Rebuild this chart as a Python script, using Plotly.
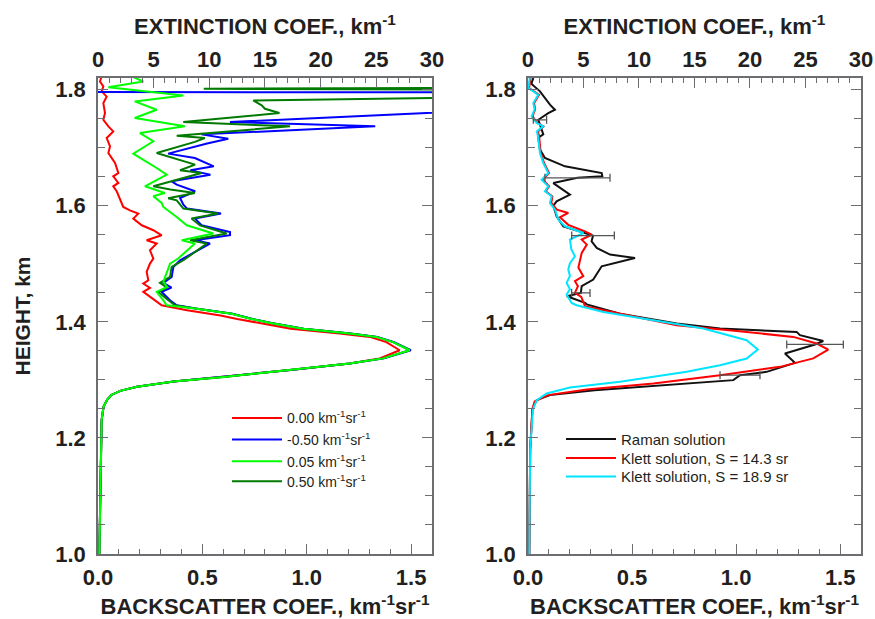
import plotly.graph_objects as go

# ---------------- left panel: sensitivity to the reference value ----------------
h_ref000 = [1.823, 1.814, 1.8055, 1.797, 1.788, 1.7768, 1.7596, 1.748, 1.7367, 1.728,
            1.7166, 1.7022, 1.6908, 1.6735, 1.6563, 1.6506, 1.6392, 1.6334, 1.6248, 1.6093,
            1.5978, 1.592, 1.5864, 1.5778, 1.5663, 1.5577, 1.549, 1.5404, 1.5348, 1.5232,
            1.509, 1.5003, 1.4859, 1.4716, 1.4658, 1.4584, 1.4515, 1.437, 1.4286, 1.42,
            1.411, 1.405, 1.397, 1.388, 1.38, 1.374, 1.365, 1.351, 1.337, 1.328,
            1.317, 1.305, 1.297, 1.288, 1.281, 1.274, 1.265, 1.254, 1.231, 1.15, 1.0]
ext_ref000 = [0.33, 0.18, 0.48, 0.33, 0.78, 0.48, 0.63, 0.48, 0.93, 1.37,
              0.78, 1.08, 0.93, 1.53, 1.83, 1.37, 1.83, 1.37, 1.68, 1.98,
              2.27, 2.87, 3.62, 3.17, 3.93, 4.97, 5.72, 4.37, 5.27, 4.67,
              4.97, 4.67, 4.37, 4.52, 4.07, 4.67, 4.07, 5.12, 5.72, 8.0,
              11.0, 12.5, 14.6, 17.3, 21.7, 24.4, 25.9, 27.1, 25.3, 22.6,
              17.3, 11.3, 6.8, 3.5, 2.0, 1.2, 0.8, 0.5, 0.33, 0.25, 0.12]

h_refm050 = [1.822, 1.7958, 1.795, 1.769, 1.7441, 1.7367, 1.7229, 1.7153, 1.707, 1.6897,
             1.6822, 1.6678, 1.6609, 1.6535, 1.642, 1.6363, 1.6248, 1.6133, 1.6018, 1.595,
             1.5864, 1.5778, 1.5663, 1.5548, 1.5491, 1.5404, 1.5348, 1.5175, 1.506, 1.4945,
             1.4773, 1.467, 1.459, 1.4515, 1.437, 1.4286, 1.423, 1.414, 1.405, 1.398,
             1.388, 1.38, 1.374, 1.365, 1.351, 1.337, 1.328, 1.317, 1.305, 1.297,
             1.288, 1.281, 1.274, 1.265, 1.254, 1.231, 1.15, 1.0]
ext_refm050 = [-10.0, -10.0, 60.0, 40.0, 11.85, 24.9, 9.3, 11.7, 9.8, 6.3,
               8.7, 10.4, 8.3, 10.1, 6.62, 7.07, 8.72, 7.37, 7.67, 8.0,
               11.05, 8.72, 9.3, 11.86, 11.86, 8.72, 10.06, 8.4, 7.37, 6.77,
               6.62, 5.87, 6.6, 5.72, 6.47, 7.07, 8.8, 12.1, 13.9, 15.6,
               18.5, 22.7, 25.1, 26.6, 28.1, 25.7, 22.6, 17.3, 11.3, 6.8,
               3.5, 2.0, 1.2, 0.8, 0.5, 0.33, 0.25, 0.12]

h_ref005 = [1.823, 1.814, 1.804, 1.79, 1.7797, 1.7654, 1.751, 1.7367, 1.7252, 1.711,
            1.6897, 1.678, 1.665, 1.6535, 1.6334, 1.6219, 1.6162, 1.6047, 1.5978, 1.5806,
            1.5663, 1.552, 1.5404, 1.5348, 1.509, 1.5003, 1.486, 1.4687, 1.46, 1.4515,
            1.437, 1.4286, 1.423, 1.414, 1.405, 1.398, 1.388, 1.38, 1.374, 1.365,
            1.351, 1.337, 1.328, 1.317, 1.305, 1.297, 1.288, 1.281, 1.274, 1.265,
            1.254, 1.231, 1.15, 1.0]
ext_ref005 = [3.0, 4.07, 0.93, 7.67, 3.3, 5.27, 3.3, 7.8, 3.77, 4.97,
              3.17, 4.2, 5.27, 6.17, 4.22, 6.0, 4.97, 5.72, 5.87, 7.07,
              7.97, 10.36, 7.52, 8.7, 7.2, 6.47, 6.17, 5.87, 6.2, 5.27,
              5.87, 6.17, 8.7, 12.0, 13.8, 15.5, 18.4, 22.6, 25.0, 26.5,
              28.0, 25.6, 22.6, 17.3, 11.3, 6.8, 3.5, 2.0, 1.2, 0.8,
              0.5, 0.33, 0.25, 0.12]

h_ref050 = [1.822, 1.8035, 1.8015, 1.7995, 1.789, 1.7814, 1.7728, 1.767, 1.7596, 1.7441,
            1.7367, 1.7205, 1.7166, 1.71, 1.6908, 1.6707, 1.661, 1.6563, 1.6334, 1.628,
            1.6219, 1.6127, 1.6093, 1.595, 1.5864, 1.5778, 1.566, 1.552, 1.5404, 1.5348,
            1.506, 1.4945, 1.4773, 1.467, 1.459, 1.4515, 1.437, 1.4286, 1.423, 1.414,
            1.405, 1.398, 1.388, 1.38, 1.374, 1.365, 1.351, 1.337, 1.328, 1.317,
            1.305, 1.297, 1.288, 1.281, 1.274, 1.265, 1.254, 1.231, 1.15, 1.0]
ext_ref050 = [45.0, 45.0, 9.5, 45.0, 45.0, 13.95, 14.7, 15.0, 16.3, 7.66,
              17.25, 7.07, 9.6, 8.7, 5.27, 8.72, 7.37, 9.3, 4.97, 6.5,
              8.7, 6.3, 7.07, 7.67, 10.8, 8.4, 9.16, 11.56, 8.27, 9.77,
              7.67, 6.62, 6.47, 5.57, 6.2, 5.42, 6.32, 6.92, 8.7, 12.0,
              13.8, 15.5, 18.4, 22.6, 25.0, 26.5, 28.0, 25.6, 22.6, 17.3,
              11.3, 6.8, 3.5, 2.0, 1.2, 0.8, 0.5, 0.33, 0.25, 0.12]

# ---------------- right panel: Raman vs. Klett retrievals ----------------
h_raman = [1.82, 1.81, 1.797, 1.774, 1.7654, 1.7596, 1.748, 1.7228, 1.717, 1.6966,
           1.6822, 1.6678, 1.6563, 1.6506, 1.648, 1.639, 1.619, 1.6076, 1.6, 1.5818,
           1.5645, 1.5485, 1.5387, 1.5272, 1.5158, 1.51, 1.4957, 1.4728, 1.4613, 1.4498,
           1.444, 1.4325, 1.43, 1.414, 1.397, 1.3884, 1.3826, 1.377, 1.367, 1.361,
           1.3454, 1.3293, 1.3138, 1.308, 1.2995, 1.2823, 1.2737, 1.265, 1.25, 1.18, 1.0]
ext_raman = [0.48, 0.3, 1.08, 1.98, 2.43, 1.83, 0.93, 1.38, 0.93, 1.08,
             1.53, 3.33, 6.64, 6.7, 4.46, 2.28, 3.78, 2.58, 2.28, 2.58,
             3.18, 5.86, 5.73, 6.19, 7.39, 9.64, 6.64, 5.88, 4.84, 4.76,
             3.5, 5.14, 5.3, 8.29, 13.4, 17.3, 24.2, 24.5, 26.6, 25.86,
             23.15, 24.05, 21.5, 19.1, 18.5, 6.0, 1.98, 0.78, 0.4, 0.2, 0.12]

# error estimates of the Raman solution
h_err = [1.748, 1.648, 1.5485, 1.4498, 1.361, 1.308]
ext_err_center = [1.08, 4.46, 5.86, 4.76, 25.86, 19.1]
ext_err = [0.6, 2.93, 1.92, 0.83, 2.55, 1.8]

h_klett143 = [1.8227, 1.8026, 1.791, 1.7768, 1.766, 1.7539, 1.7424, 1.7367, 1.728, 1.72,
              1.6908, 1.6735, 1.6563, 1.6449, 1.6334, 1.625, 1.6162, 1.6047, 1.5932, 1.5875,
              1.58, 1.567, 1.5559, 1.55, 1.5416, 1.533, 1.5186, 1.505, 1.4935, 1.4785,
              1.47, 1.4614, 1.45, 1.443, 1.4269, 1.42, 1.4114, 1.394, 1.386, 1.374,
              1.3626, 1.352, 1.337, 1.3224, 1.308, 1.2938, 1.2835, 1.2737, 1.2628, 1.25,
              1.18, 1.0]
ext_klett143 = [0.25, 0.1, 1.0, 0.55, 0.65, 0.4, 0.85, 1.4, 0.9, 1.0,
                1.15, 1.45, 1.9, 1.35, 1.9, 1.6, 2.2, 2.1, 2.6, 3.63,
                2.88, 3.63, 5.14, 5.74, 4.84, 5.3, 4.84, 4.7, 4.54, 4.98,
                4.23, 4.5, 4.23, 4.8, 5.14, 6.8, 8.9, 13.4, 17.9, 23.9,
                26.0, 27.05, 25.7, 22.7, 17.3, 11.3, 5.29, 1.8, 0.6, 0.4,
                0.2, 0.12]

h_klett189 = [1.8227, 1.8026, 1.791, 1.7768, 1.766, 1.7539, 1.7424, 1.7367, 1.728, 1.72,
              1.6908, 1.6735, 1.6563, 1.6449, 1.6334, 1.625, 1.6162, 1.6047, 1.5932, 1.576,
              1.5645, 1.5559, 1.553, 1.5416, 1.525, 1.5129, 1.501, 1.49, 1.479, 1.467,
              1.456, 1.447, 1.4325, 1.4286, 1.417, 1.4028, 1.3884, 1.3683, 1.3523, 1.3368,
              1.3253, 1.3138, 1.2966, 1.2869, 1.2766, 1.265, 1.25, 1.18, 1.0]
ext_klett189 = [0.18, 0.03, 0.93, 0.48, 0.6, 0.33, 0.78, 1.38, 0.8, 0.9,
                1.08, 1.38, 1.83, 1.23, 1.83, 1.53, 2.13, 1.98, 2.43, 2.73,
                3.33, 4.68, 5.0, 3.78, 3.9, 4.23, 3.78, 3.63, 3.78, 3.48,
                3.78, 3.48, 3.93, 4.38, 6.79, 11.3, 15.8, 19.7, 20.7, 19.7,
                17.3, 14.3, 8.29, 3.78, 1.68, 0.8, 0.45, 0.2, 0.12]

# ticks
y_ticks = [1.0, 1.2, 1.4, 1.6, 1.8]
bsc_ticks = [0.0, 0.5, 1.0, 1.5]
ext_ticks = [0, 5, 10, 15, 20, 25, 30]

TEXT = "#231f20"
FRAME = "#6d6e71"
FONT = "Liberation Sans"

fig = go.Figure()

# empty traces so that the backscatter (bottom) subplots are registered
for xa, ya in (("x", "y"), ("x3", "y2")):
    fig.add_trace(go.Scatter(x=[], y=[], mode="lines", showlegend=False,
                             hoverinfo="skip", xaxis=xa, yaxis=ya))

UNIT = " km<sup>-1</sup>sr<sup>-1</sup>"
# (name, heights, extinction, colour, legend id) -- drawing order, light green on top
left_series = [
    ("0.00" + UNIT, h_ref000, ext_ref000, "#ff0000", "legend"),
    ("-0.50" + UNIT, h_refm050, ext_refm050, "#0000ff", "legend2"),
    ("0.50" + UNIT, h_ref050, ext_ref050, "#007a00", "legend4"),
    ("0.05" + UNIT, h_ref005, ext_ref005, "#00ff00", "legend3"),
]
for name, h, e, col, leg in left_series:
    fig.add_trace(go.Scatter(x=e, y=h, mode="lines", name=name,
                             line=dict(color=col, width=2),
                             xaxis="x2", yaxis="y", legend=leg))

right_series = [
    ("Raman solution", h_raman, ext_raman, "#111111", "legend5"),
    ("Klett solution, S = 14.3 sr", h_klett143, ext_klett143, "#ff0000", "legend6"),
    ("Klett solution, S = 18.9 sr", h_klett189, ext_klett189, "#00e5ff", "legend7"),
]
for name, h, e, col, leg in right_series:
    fig.add_trace(go.Scatter(x=e, y=h, mode="lines", name=name,
                             line=dict(color=col, width=2),
                             xaxis="x4", yaxis="y2", legend=leg))

fig.add_trace(go.Scatter(
    x=ext_err_center, y=h_err, mode="markers", showlegend=False,
    marker=dict(size=1, color="rgba(0,0,0,0)"),
    error_x=dict(type="data", array=ext_err, color="#555555", thickness=1.3, width=4),
    xaxis="x4", yaxis="y2"))

tickfont = dict(family=FONT, size=22, color=TEXT, weight="bold")
titlefont = dict(family=FONT, size=22, color=TEXT, weight="bold")

def bottom_axis(domain, anchor):
    return dict(domain=domain, anchor=anchor, range=[0, 1.6], tickvals=bsc_ticks,
                tickformat=".1f", ticks="inside", ticklen=10, tickwidth=1.3,
                tickcolor=FRAME, showline=True, linecolor=FRAME, linewidth=1.5,
                showgrid=False, zeroline=False, tickfont=tickfont,
                ticklabelstandoff=3, automargin=False,
                minor=dict(dtick=0.1, ticks="inside", ticklen=5, tickcolor=FRAME,
                           tickwidth=1.1, showgrid=False),
                title=dict(text="BACKSCATTER COEF., km<sup>-1</sup>sr<sup>-1</sup>",
                           font=titlefont, standoff=10))

def top_axis(over, anchor):
    return dict(overlaying=over, anchor=anchor, side="top", range=[0, 30],
                tickvals=ext_ticks, ticks="inside", ticklen=10, tickwidth=1.3,
                tickcolor=FRAME, showline=True, linecolor=FRAME, linewidth=1.5,
                showgrid=False, zeroline=False, tickfont=tickfont, automargin=False,
                minor=dict(dtick=1, ticks="inside", ticklen=5, tickcolor=FRAME,
                           tickwidth=1.1, showgrid=False),
                title=dict(text="EXTINCTION COEF., km<sup>-1</sup>",
                           font=titlefont, standoff=7))

def height_axis(anchor, title):
    ax = dict(domain=[0.105, 0.874], anchor=anchor, range=[1.0, 1.82],
              tickvals=y_ticks, tickformat=".1f", ticks="inside", ticklen=10,
              tickwidth=1.3, tickcolor=FRAME, showline=True, mirror="ticks",
              linecolor=FRAME, linewidth=1.5, showgrid=False, zeroline=False,
              tickfont=tickfont, ticklabelstandoff=6, automargin=False,
              minor=dict(dtick=0.05, ticks="inside", ticklen=7, tickcolor=FRAME,
                         tickwidth=1.1, showgrid=False))
    if title:
        ax["title"] = dict(text=title, font=dict(family=FONT, size=21, color=TEXT,
                                                 weight="bold"), standoff=19)
    return ax

def entry_legend(x, y, size):
    return dict(x=x, y=y, xanchor="left", yanchor="middle",
                bgcolor="rgba(0,0,0,0)", borderwidth=0, itemwidth=50,
                font=dict(family=FONT, size=size, color=TEXT))

H = 619.0
left_rows = [418.3, 440.0, 461.7, 481.7]
right_rows = [439.3, 458.3, 476.7]
LEFT_LEG_X = 227 / 875
RIGHT_LEG_X = 561 / 875

fig.update_layout(
    width=875, height=619,
    margin=dict(l=0, r=0, t=0, b=0),
    paper_bgcolor="white", plot_bgcolor="white",
    font=dict(family=FONT, color=TEXT),
    xaxis=bottom_axis([0.112, 0.4937], "y"),
    xaxis2=top_axis("x", "y"),
    xaxis3=bottom_axis([0.6034, 0.984], "y2"),
    xaxis4=top_axis("x3", "y2"),
    yaxis=height_axis("x", "HEIGHT, km"),
    yaxis2=height_axis("x3", None),
    legend=entry_legend(LEFT_LEG_X, 1 - left_rows[0] / H, 14),
    legend2=entry_legend(LEFT_LEG_X, 1 - left_rows[1] / H, 14),
    legend3=entry_legend(LEFT_LEG_X, 1 - left_rows[2] / H, 14),
    legend4=entry_legend(LEFT_LEG_X, 1 - left_rows[3] / H, 14),
    legend5=entry_legend(RIGHT_LEG_X, 1 - right_rows[0] / H, 15),
    legend6=entry_legend(RIGHT_LEG_X, 1 - right_rows[1] / H, 15),
    legend7=entry_legend(RIGHT_LEG_X, 1 - right_rows[2] / H, 15),
    showlegend=True,
)

fig.write_html("out.html")
